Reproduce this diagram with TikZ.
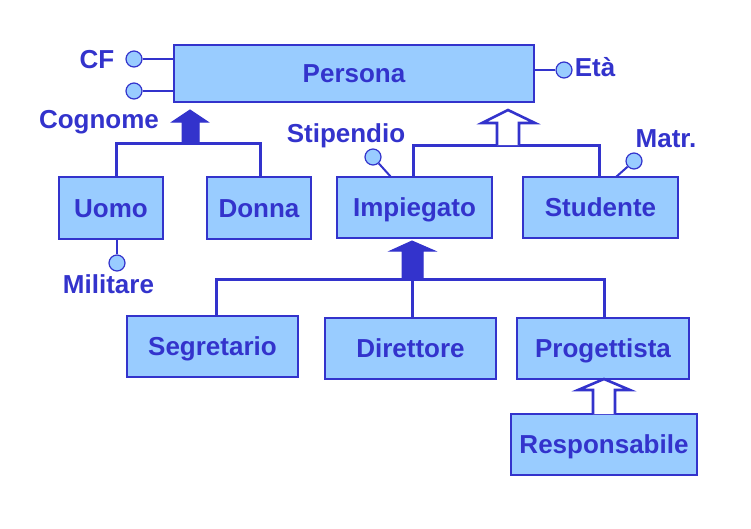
\documentclass[tikz,border=0pt]{standalone}
\usepackage{fontspec}
\setmainfont{Liberation Sans}
\definecolor{ink}{HTML}{3333CC}
\definecolor{boxfill}{HTML}{99CCFF}
\begin{document}
\begin{tikzpicture}[x=1pt,y=-1pt,
  entity/.style={draw=ink,fill=boxfill,line width=1.6pt,text=ink,
    font=\fontsize{26}{28}\selectfont\bfseries,text height=18.6pt,text depth=0pt,
    inner sep=0pt,minimum width=#1},
  entity/.default=104pt,
  attr/.style={circle,draw=ink,fill=boxfill,line width=1.2pt,minimum size=16pt,inner sep=0pt},
  lbl/.style={text=ink,font=\fontsize{26}{28}\selectfont\bfseries,anchor=base,inner sep=0pt},
  conn/.style={draw=ink,line width=3pt},
  aconn/.style={draw=ink,line width=2pt},
  solidhead/.style={draw=ink,fill=ink,line width=1pt,line join=miter},
  hollowhead/.style={draw=ink,fill=white,line width=2.6pt,line join=miter}]
\useasboundingbox (0,0) rectangle (751,528);

% entities
\node[entity=360pt,minimum height=57pt] (persona) at (354,73.5) {Persona};
\node[entity=104pt,minimum height=62pt] (uomo) at (111,208) {Uomo};
\node[entity=104pt,minimum height=62pt] (donna) at (259,208) {Donna};
\node[entity=155pt,minimum height=61pt] (impiegato) at (414.5,207.5) {Impiegato};
\node[entity=155pt,minimum height=61pt] (studente) at (600.5,207.5) {Studente};
\node[entity=171pt,minimum height=61pt] (segretario) at (212.5,346.5) {Segretario};
\node[entity=171pt,minimum height=61pt] (direttore) at (410.5,348.5) {Direttore};
\node[entity=172pt,minimum height=61pt] (progettista) at (603,348.5) {Progettista};
\node[entity=186pt,minimum height=61pt] (responsabile) at (604,444.5) {Responsabile};

% attributes
\node[attr] (cf) at (134,59) {};
\node[attr] (cogn) at (134,91) {};
\node[attr] (eta) at (564,70) {};
\node[attr] (stip) at (373,157) {};
\node[attr] (matr) at (634,161) {};
\node[attr] (mil) at (117,263) {};

\node[lbl] (lcf) at (97,68) {CF};
\node[lbl] (lcogn) at (99,128) {Cognome};
\node[lbl] (leta) at (595,76) {Età};
\node[lbl] (lstip) at (346,142) {Stipendio};
\node[lbl] (lmatr) at (666,147) {Matr.};
\node[lbl] (lmil) at (108.5,293) {Militare};

\draw[aconn] (cf) -- (cf -| persona.west);
\draw[aconn] (cogn) -- (cogn -| persona.west);
\draw[aconn] (eta) -- (eta -| persona.east);
\coordinate (stipfoot) at (391,177);
\coordinate (matrfoot) at (616,177);
\coordinate (milfoot) at (117,239);
\draw[aconn] (stip) -- (stipfoot);
\draw[aconn] (matr) -- (matrfoot);
\draw[aconn] (milfoot) -- (mil);

% generalization Persona -> Uomo, Donna (total, filled)
\coordinate (g1l) at (116,143);
\coordinate (g1r) at (260,143);
\draw[conn] (uomo.north -| g1l) -- (g1l) -- (g1r) -- (donna.north -| g1r);
\draw[solidhead] (182,143) -- (182,122) -- (172,122) -- (190,110) -- (208,122) -- (199,122) -- (199,143) -- cycle;

% generalization Persona -> Impiegato, Studente (hollow)
\coordinate (g2l) at (413,145);
\coordinate (g2r) at (599,145);
\draw[conn] (impiegato.north -| g2l) -- (g2l) -- (g2r) -- (studente.north -| g2r);
\draw[hollowhead] (497,145) -- (497,123) -- (482,123) -- (508,110) -- (535,123) -- (519,123) -- (519,145);

% generalization Impiegato -> Segretario, Direttore, Progettista (filled)
\coordinate (g3l) at (216,279);
\coordinate (g3m) at (412,279);
\coordinate (g3r) at (604,279);
\draw[conn] (segretario.north -| g3l) -- (g3l) -- (g3r) -- (progettista.north -| g3r);
\draw[conn] (g3m) -- (direttore.north -| g3m);
\draw[solidhead] (402,279) -- (402,251) -- (390,251) -- (412,241) -- (435,251) -- (423,251) -- (423,279) -- cycle;

% Progettista -> Responsabile (hollow)
\draw[hollowhead] (593,414) -- (593,390) -- (578,390) -- (604,379) -- (630,390) -- (615,390) -- (615,414);
\end{tikzpicture}
\end{document}
